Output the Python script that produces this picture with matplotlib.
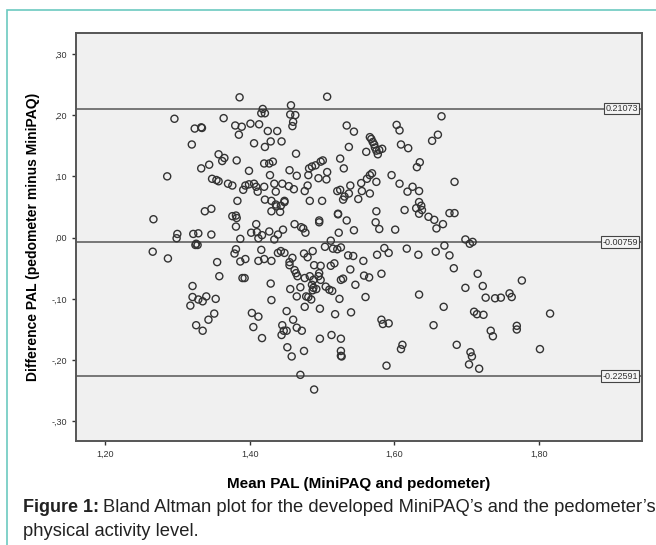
import numpy as np
import matplotlib.pyplot as plt
from matplotlib.patches import Rectangle

# mean PAL (x) and difference PAL (y)
mean_pal = [
    1.386, 1.507, 1.418, 1.416, 1.421, 1.457, 1.456, 1.463, 1.460, 1.459,
    1.296, 1.324, 1.333, 1.334, 1.364, 1.380, 1.389, 1.385, 1.401, 1.413,
    1.425, 1.438, 1.406, 1.421, 1.429, 1.444, 1.320, 1.464, 1.357, 1.365,
    1.362, 1.382, 1.344, 1.333, 1.399, 1.420, 1.427, 1.432, 1.428, 1.455,
    1.465, 1.286, 1.348, 1.354, 1.357, 1.370, 1.376, 1.391, 1.394, 1.399,
    1.406, 1.409, 1.411, 1.420, 1.434, 1.445, 1.454, 1.461, 1.436, 1.421,
    1.430, 1.436, 1.443, 1.448, 1.430, 1.442, 1.383, 1.338, 1.347, 1.376,
    1.382, 1.381, 1.381, 1.409, 1.267, 1.402, 1.410, 1.412, 1.417, 1.427,
    1.434, 1.439, 1.446, 1.300, 1.299, 1.322, 1.329, 1.347, 1.325, 1.328,
    1.326, 1.387, 1.266, 1.287, 1.379, 1.381, 1.387, 1.394, 1.355, 1.358,
    1.390, 1.393, 1.412, 1.416, 1.420, 1.430, 1.439, 1.443, 1.448, 1.455,
    1.455, 1.459, 1.462, 1.464, 1.321, 1.321, 1.318, 1.329, 1.335, 1.340,
    1.353, 1.351, 1.343, 1.326, 1.335, 1.429, 1.430, 1.456, 1.465, 1.470,
    1.478, 1.476, 1.451, 1.403, 1.412, 1.405, 1.417, 1.445, 1.447, 1.444,
    1.451, 1.460, 1.465, 1.472, 1.452, 1.458, 1.475, 1.470, 1.489, 1.475,
    1.480, 1.487, 1.466, 1.476, 1.483, 1.488, 1.486, 1.488, 1.487, 1.492,
    1.481, 1.485, 1.489, 1.498, 1.495, 1.498, 1.496, 1.505, 1.510, 1.514,
    1.497, 1.518, 1.497, 1.513, 1.526, 1.526, 1.526, 1.527, 1.504, 1.512,
    1.515, 1.521, 1.526, 1.512, 1.517, 1.526, 1.529, 1.524, 1.536, 1.543,
    1.539, 1.546, 1.540, 1.557, 1.558, 1.565, 1.560, 1.576, 1.586, 1.592,
    1.582, 1.617, 1.633, 1.657, 1.669, 1.676, 1.682, 1.698, 1.704, 1.708,
    1.634, 1.668, 1.698, 1.715, 1.722, 1.726, 1.739, 1.747, 1.759, 1.762,
    1.776, 1.815, 1.710, 1.714, 1.723, 1.733, 1.736, 1.769, 1.769, 1.686,
    1.705, 1.707, 1.703, 1.717, 1.801, 1.654, 1.582, 1.584, 1.592, 1.609,
    1.611, 1.589, 1.491, 1.498, 1.501, 1.482, 1.486, 1.481, 1.495, 1.506,
    1.507, 1.480, 1.476, 1.483, 1.500, 1.525, 1.530, 1.521, 1.525, 1.529,
    1.531, 1.539, 1.537, 1.550, 1.554, 1.555, 1.562, 1.566, 1.569, 1.566,
    1.575, 1.534, 1.544, 1.537, 1.561, 1.566, 1.568, 1.570, 1.572, 1.573,
    1.575, 1.577, 1.579, 1.583, 1.603, 1.607, 1.609, 1.619, 1.596, 1.607,
    1.618, 1.625, 1.634, 1.631, 1.635, 1.652, 1.660, 1.665, 1.634, 1.637,
    1.630, 1.638, 1.634, 1.647, 1.655, 1.658, 1.667, 1.614, 1.683, 1.676,
    1.683, 1.575, 1.574, 1.579, 1.601, 1.544, 1.534, 1.522, 1.522, 1.523,
    1.496, 1.496, 1.462, 1.471, 1.474, 1.477, 1.437, 1.448,
]
diff_pal = [
    0.229, 0.230, 0.210, 0.203, 0.203, 0.216, 0.201, 0.200, 0.189, 0.182,
    0.194, 0.178, 0.180, 0.179, 0.195, 0.183, 0.181, 0.168, 0.186, 0.185,
    0.174, 0.174, 0.154, 0.148, 0.157, 0.157, 0.152, 0.137, 0.136, 0.130,
    0.125, 0.126, 0.119, 0.113, 0.109, 0.121, 0.121, 0.124, 0.102, 0.110,
    0.101, 0.100, 0.096, 0.094, 0.092, 0.088, 0.085, 0.078, 0.085, 0.087,
    0.088, 0.083, 0.075, 0.083, 0.088, 0.088, 0.084, 0.079, 0.075, 0.062,
    0.060, 0.054, 0.052, 0.060, 0.043, 0.042, 0.060, 0.043, 0.047, 0.035,
    0.032, 0.036, 0.018, 0.022, 0.030, 0.008, 0.009, -0.001, 0.004, 0.010,
    -0.003, 0.005, 0.013, 0.006, -0.001, 0.006, 0.007, 0.005, -0.012, -0.012,
    -0.010, -0.002, -0.023, -0.034, -0.026, -0.019, -0.039, -0.035, -0.040, -0.063,
    -0.066, -0.066, -0.038, -0.020, -0.035, -0.038, -0.025, -0.022, -0.025, -0.040,
    -0.045, -0.033, -0.053, -0.058, -0.079, -0.097, -0.111, -0.101, -0.104, -0.096,
    -0.100, -0.124, -0.134, -0.143, -0.152, -0.075, -0.102, -0.084, -0.096, -0.081,
    -0.096, -0.113, -0.120, -0.123, -0.129, -0.146, -0.164, -0.143, -0.152, -0.159,
    -0.152, -0.134, -0.147, -0.152, -0.179, -0.194, -0.185, -0.224, -0.248, -0.026,
    -0.032, -0.022, -0.063, -0.066, -0.063, -0.069, -0.077, -0.082, -0.086, -0.084,
    -0.097, -0.101, -0.045, -0.046, -0.063, -0.069, -0.058, -0.080, -0.085, -0.087,
    -0.116, -0.125, -0.165, -0.159, -0.165, -0.185, -0.193, -0.194, -0.015, -0.005,
    -0.018, -0.019, -0.016, -0.046, -0.042, -0.069, -0.067, -0.100, -0.029, -0.030,
    -0.052, -0.077, -0.122, -0.038, -0.062, -0.065, -0.097, -0.028, -0.017, -0.025,
    -0.059, -0.018, -0.028, -0.023, -0.013, -0.029, -0.050, -0.003, -0.010, -0.007,
    -0.093, -0.113, -0.082, -0.059, -0.079, -0.098, -0.099, -0.098, -0.091, -0.097,
    -0.070, -0.124, -0.121, -0.125, -0.126, -0.152, -0.161, -0.144, -0.150, -0.175,
    -0.187, -0.194, -0.207, -0.214, -0.182, -0.143, -0.134, -0.141, -0.140, -0.182,
    -0.175, -0.209, 0.118, 0.124, 0.126, 0.113, 0.116, 0.102, 0.097, 0.095,
    0.107, 0.085, 0.076, 0.060, 0.060, 0.129, 0.113, 0.076, 0.078, 0.062,
    0.067, 0.085, 0.072, 0.063, 0.089, 0.076, 0.096, 0.102, 0.105, 0.072,
    0.091, 0.183, 0.173, 0.148, 0.140, 0.164, 0.161, 0.156, 0.152, 0.147,
    0.142, 0.136, 0.143, 0.145, 0.184, 0.175, 0.152, 0.146, 0.102, 0.088,
    0.075, 0.083, 0.076, 0.115, 0.123, 0.158, 0.168, 0.198, 0.058, 0.052,
    0.048, 0.045, 0.039, 0.034, 0.029, 0.015, 0.022, 0.045, 0.091, 0.040,
    0.040, 0.043, 0.025, 0.014, 0.013, 0.012, 0.028, 0.039, 0.038, 0.008,
    0.028, 0.025, 0.022, 0.017, 0.015, 0.008, 0.051, 0.058,
]

mean_diff = -0.00759
upper_loa = 0.21073
lower_loa = -0.22591
limit_labels = ["0.21073", "-0.00759", "-0.22591"]

x_ticks = [1.20, 1.40, 1.60, 1.80]
x_tick_labels = ["1,20", "1,40", "1,60", "1,80"]
y_ticks = [0.30, 0.20, 0.10, 0.00, -0.10, -0.20, -0.30]
y_tick_labels = [",30", ",20", ",10", ",00", "-,10", "-,20", "-,30"]

plt.rcParams['font.family'] = ['Liberation Sans', 'DejaVu Sans']

fig = plt.figure(figsize=(6.56, 5.45), dpi=100)
# teal frame round the figure
fig.patches.append(Rectangle((7 / 656, -0.1), 1.2, 1.1 - 10 / 545,
                             transform=fig.transFigure, fill=False,
                             edgecolor='#6cc9c0', linewidth=1.2))

ax = fig.add_axes([76 / 656, 1 - 441 / 545, 566 / 656, 408 / 545])
ax.set_facecolor('#f0f0f0')

ax.scatter(mean_pal, diff_pal, s=26, facecolors='none', edgecolors='#333333',
           linewidths=1.0, zorder=3)

for val, lab in zip([upper_loa, mean_diff, lower_loa], limit_labels):
    ax.axhline(val, color='#555555', linewidth=1.1, zorder=2)
    ax.text(1.936, val, lab, ha='right', va='center', fontsize=6.5,
            color='#333333', zorder=4,
            bbox=dict(boxstyle='square,pad=0.15', facecolor='#f4f4f4',
                      edgecolor='#444444', linewidth=0.8))

ax.set_xlim(1.16, 1.942)
ax.set_ylim(-0.332, 0.334)
ax.set_xticks(x_ticks)
ax.set_xticklabels(x_tick_labels)
ax.set_yticks(y_ticks)
ax.set_yticklabels(y_tick_labels)
ax.tick_params(labelsize=6.5, colors='#333333', length=3, width=1)

for sp in ax.spines.values():
    sp.set_color('#555555')
    sp.set_linewidth(1.4)

ax.set_xlabel('Mean PAL (MiniPAQ and pedometer)', fontsize=11,
              fontweight='bold', labelpad=13)
ax.set_ylabel('Difference PAL (pedometer minus MiniPAQ)', fontsize=10,
              fontweight='bold', labelpad=8)

fig.text(23 / 656, 1 - 508 / 545, 'Figure 1:', fontsize=13,
         fontweight='bold', va='center', color='#222222')
fig.text(103 / 656, 1 - 508 / 545,
         'Bland Altman plot for the developed MiniPAQ\u2019s and the pedometer\u2019s',
         fontsize=13.2, va='center', color='#222222')
fig.text(23 / 656, 1 - 531 / 545, 'physical activity level.', fontsize=13.2,
         va='center', color='#222222')

fig.savefig('out.png', dpi=100)
